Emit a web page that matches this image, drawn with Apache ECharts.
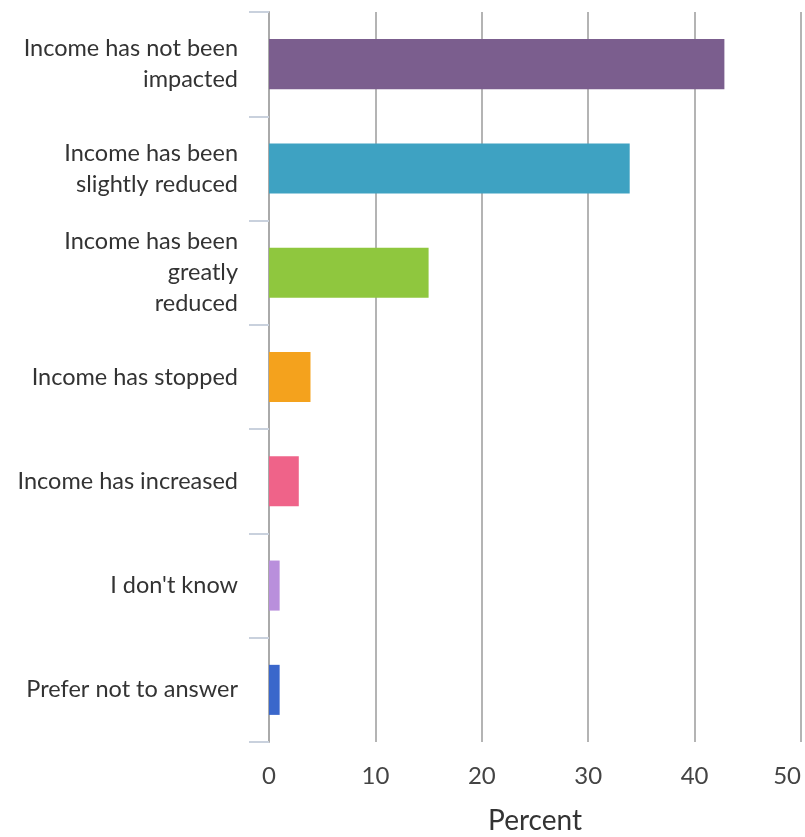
<!DOCTYPE html>
<html>
<head>
<meta charset="utf-8">
<script src="https://cdn.jsdelivr.net/npm/echarts@6/dist/echarts.min.js"></script>
<style>
  html, body { margin: 0; padding: 0; background: #fff; }
  #chart { width: 805px; height: 837px; }
</style>
</head>
<body>
<div id="chart"></div>
<script>
// Response categories, top to bottom
const categories = [
  'Income has not been\nimpacted',
  'Income has been\nslightly reduced',
  'Income has been\ngreatly\nreduced',
  'Income has stopped',
  'Income has increased',
  "I don't know",
  'Prefer not to answer'
];
// Share of respondents (%)
const percents = [42.8, 33.9, 15.0, 3.9, 2.8, 1.0, 1.0];
const barColors = ['#7b5e8e', '#3ea2c2', '#8fc73e', '#f4a21d', '#ef6389', '#b98fdc', '#3a67cb'];
const xTicks = [0, 10, 20, 30, 40, 50];

const chart = echarts.init(document.getElementById('chart'));
chart.setOption({
  animation: false,
  grid: {
    left: 269, right: 4, top: 12, bottom: 95,
    containLabel: false, outerBoundsMode: 'none'
  },
  xAxis: {
    type: 'value',
    min: xTicks[0],
    max: xTicks[xTicks.length - 1],
    interval: 10,
    name: 'Percent',
    nameLocation: 'middle',
    nameGap: 65,
    nameTextStyle: { fontFamily: 'Lato', fontSize: 28, color: '#333' },
    axisLine: { show: false },
    axisTick: { show: false },
    axisLabel: {
      fontFamily: 'Lato', fontSize: 24, color: '#444', margin: 22,
      alignMaxLabel: 'right'
    },
    splitLine: { show: true, lineStyle: { color: '#b4b4b4', width: 2 } }
  },
  yAxis: {
    type: 'category',
    data: categories,
    inverse: true,
    axisLine: { show: true, lineStyle: { color: '#aaaaaa', width: 2 } },
    axisTick: { show: true, length: 20, lineStyle: { color: '#c9d1dd', width: 2 } },
    axisLabel: {
      fontFamily: 'Lato', fontSize: 23.5, color: '#333', margin: 31,
      lineHeight: 31, align: 'right'
    }
  },
  series: [{
    type: 'bar',
    data: percents.map((v, i) => ({ value: v, itemStyle: { color: barColors[i] } })),
    barWidth: '48%'
  }]
});
</script>
</body>
</html>
